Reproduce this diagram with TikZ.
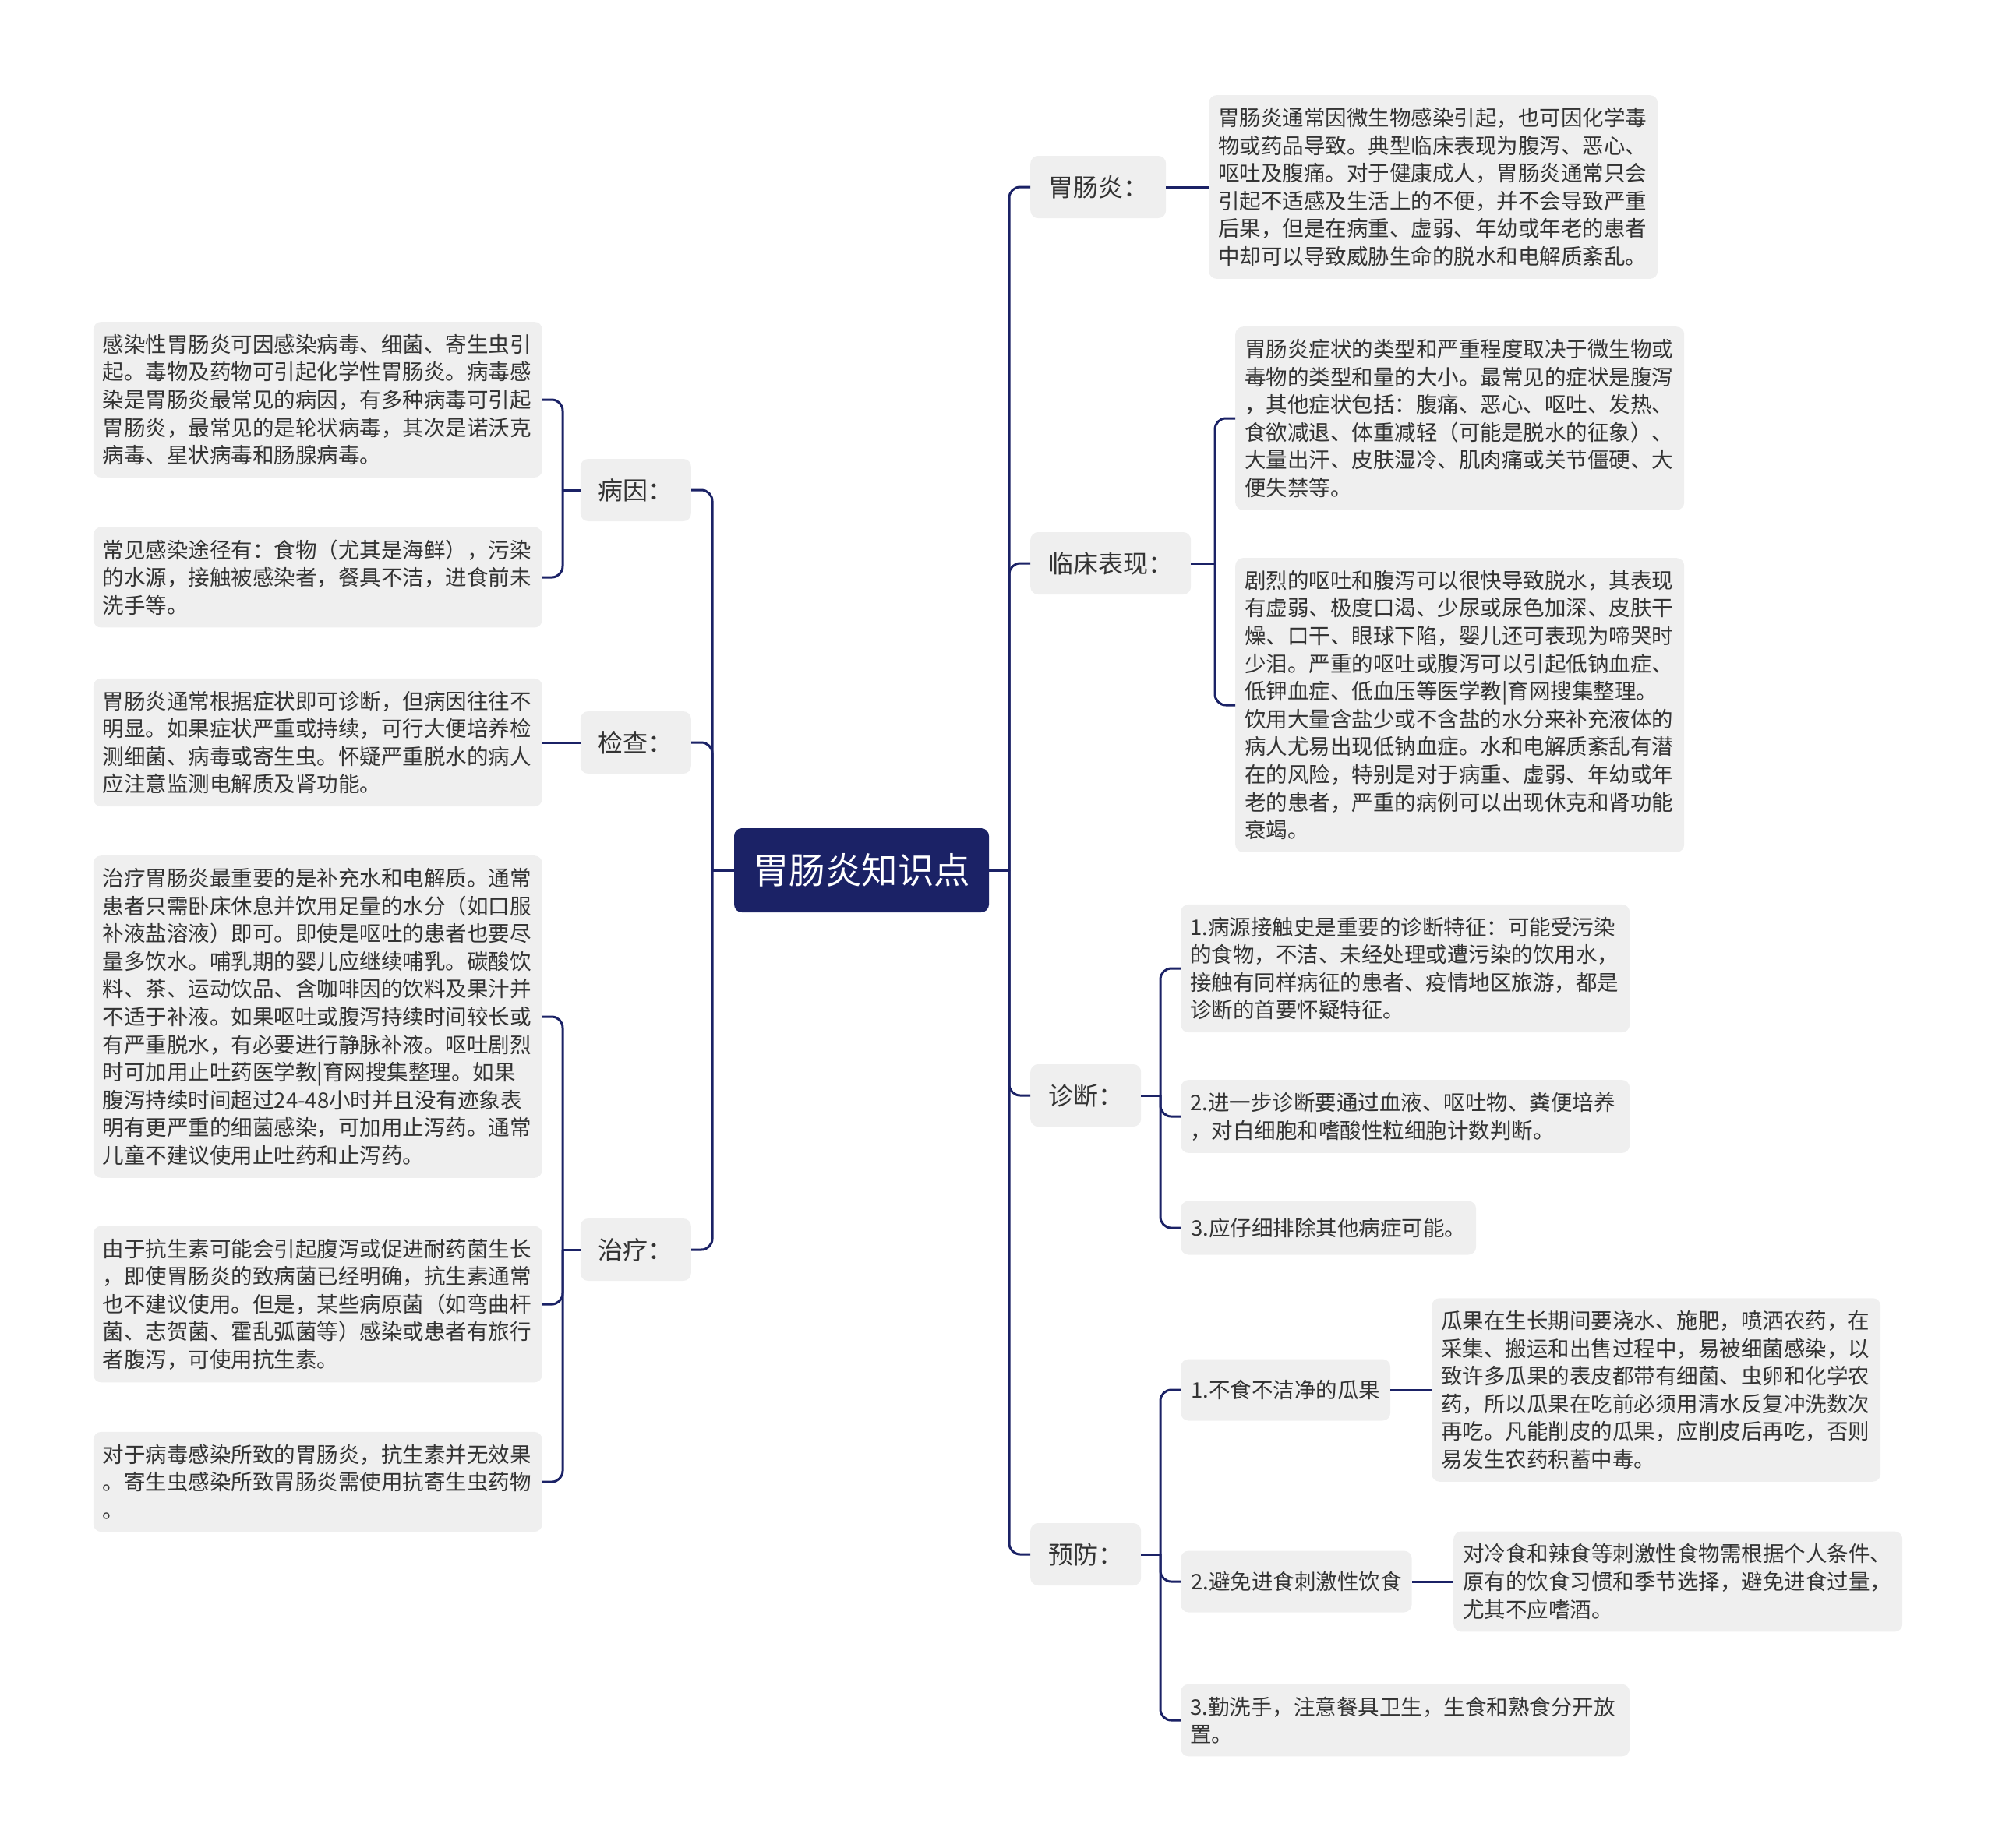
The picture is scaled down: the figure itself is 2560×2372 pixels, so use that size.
\documentclass[tikz,border=0pt]{standalone}
\usepackage{fontspec}
\setmainfont{Noto Sans CJK SC}
\definecolor{navy}{RGB}{27,34,102}
\definecolor{boxgray}{RGB}{239,239,239}
\definecolor{txt}{RGB}{51,51,51}
\tikzset{
  mainnode/.style={fill=navy, rounded corners=10pt, text=white, font=\fontsize{46.5}{56}\selectfont, minimum height=108pt, inner xsep=24pt, inner ysep=0pt},
  lab/.style={fill=boxgray, rounded corners=10pt, text=txt, font=\fontsize{32}{38}\selectfont, minimum height=80pt, inner xsep=23pt, inner ysep=0pt},
  tbox/.style={fill=boxgray, rounded corners=10pt, text=txt, font=\fontsize{27.5}{35.6}\selectfont, align=left, text width=552pt, inner xsep=12pt, inner ysep=16pt},
  sbox/.style={fill=boxgray, rounded corners=10pt, text=txt, font=\fontsize{27.5}{35.6}\selectfont, inner xsep=13pt, inner ysep=0pt, minimum height=79pt},
  conn/.style={draw=navy, line width=3pt, rounded corners=14pt},
}
\begin{document}
\begin{tikzpicture}[x=1pt,y=-1pt]
\useasboundingbox (0,0) rectangle (2560,2372);
% center
\node[mainnode] (c) at (1105.5,1117) {胃肠炎知识点};
% right labels
\node[lab, anchor=west] (r1) at (1322,240) {胃肠炎：};
\node[lab, anchor=west] (r2) at (1322,723) {临床表现：};
\node[lab, anchor=west] (r3) at (1322,1406) {诊断：};
\node[lab, anchor=west] (r4) at (1322,1995) {预防：};
% left labels
\node[lab, anchor=east] (l1) at (887,629) {病因：};
\node[lab, anchor=east] (l2) at (887,953) {检查：};
\node[lab, anchor=east] (l3) at (887,1604) {治疗：};
% right text boxes
\node[tbox, anchor=west] (R1) at (1551,240) {胃肠炎通常因微生物感染引起，也可因化学毒\\物或药品导致。典型临床表现为腹泻、恶心、\\呕吐及腹痛。对于健康成人，胃肠炎通常只会\\引起不适感及生活上的不便，并不会导致严重\\后果，但是在病重、虚弱、年幼或年老的患者\\中却可以导致威胁生命的脱水和电解质紊乱。};
\node[tbox, anchor=west] (R2a) at (1585,537) {胃肠炎症状的类型和严重程度取决于微生物或\\毒物的类型和量的大小。最常见的症状是腹泻\\，其他症状包括：腹痛、恶心、呕吐、发热、\\食欲减退、体重减轻（可能是脱水的征象）、\\大量出汗、皮肤湿冷、肌肉痛或关节僵硬、大\\便失禁等。};
\node[tbox, anchor=west] (R2b) at (1585,905) {剧烈的呕吐和腹泻可以很快导致脱水，其表现\\有虚弱、极度口渴、少尿或尿色加深、皮肤干\\燥、口干、眼球下陷，婴儿还可表现为啼哭时\\少泪。严重的呕吐或腹泻可以引起低钠血症、\\低钾血症、低血压等医学教|育网搜集整理。\\饮用大量含盐少或不含盐的水分来补充液体的\\病人尤易出现低钠血症。水和电解质紊乱有潜\\在的风险，特别是对于病重、虚弱、年幼或年\\老的患者，严重的病例可以出现休克和肾功能\\衰竭。};
\node[tbox, anchor=west] (D1) at (1515,1243) {1.病源接触史是重要的诊断特征：可能受污染\\的食物，不洁、未经处理或遭污染的饮用水，\\接触有同样病征的患者、疫情地区旅游，都是\\诊断的首要怀疑特征。};
\node[tbox, anchor=west] (D2) at (1515,1433) {2.进一步诊断要通过血液、呕吐物、粪便培养\\，对白细胞和嗜酸性粒细胞计数判断。};
\node[sbox, anchor=west, minimum height=69pt] (D3) at (1515,1576) {3.应仔细排除其他病症可能。};
\node[sbox, anchor=west] (P1) at (1515,1784) {1.不食不洁净的瓜果};
\node[tbox, anchor=west] (P1c) at (1837,1784) {瓜果在生长期间要浇水、施肥，喷洒农药，在\\采集、搬运和出售过程中，易被细菌感染，以\\致许多瓜果的表皮都带有细菌、虫卵和化学农\\药，所以瓜果在吃前必须用清水反复冲洗数次\\再吃。凡能削皮的瓜果，应削皮后再吃，否则\\易发生农药积蓄中毒。};
\node[sbox, anchor=west] (P2) at (1515,2030) {2.避免进食刺激性饮食};
\node[tbox, anchor=west] (P2c) at (1865,2030) {对冷食和辣食等刺激性食物需根据个人条件、\\原有的饮食习惯和季节选择，避免进食过量，\\尤其不应嗜酒。};
\node[tbox, anchor=west] (P3) at (1515,2208) {3.勤洗手，注意餐具卫生，生食和熟食分开放\\置。};
% left text boxes
\node[tbox, anchor=east] (L1a) at (696,513) {感染性胃肠炎可因感染病毒、细菌、寄生虫引\\起。毒物及药物可引起化学性胃肠炎。病毒感\\染是胃肠炎最常见的病因，有多种病毒可引起\\胃肠炎，最常见的是轮状病毒，其次是诺沃克\\病毒、星状病毒和肠腺病毒。};
\node[tbox, anchor=east] (L1b) at (696,741) {常见感染途径有：食物（尤其是海鲜），污染\\的水源，接触被感染者，餐具不洁，进食前未\\洗手等。};
\node[tbox, anchor=east] (L2) at (696,953) {胃肠炎通常根据症状即可诊断，但病因往往不\\明显。如果症状严重或持续，可行大便培养检\\测细菌、病毒或寄生虫。怀疑严重脱水的病人\\应注意监测电解质及肾功能。};
\node[tbox, anchor=east] (L3a) at (696,1305) {治疗胃肠炎最重要的是补充水和电解质。通常\\患者只需卧床休息并饮用足量的水分（如口服\\补液盐溶液）即可。即使是呕吐的患者也要尽\\量多饮水。哺乳期的婴儿应继续哺乳。碳酸饮\\料、茶、运动饮品、含咖啡因的饮料及果汁并\\不适于补液。如果呕吐或腹泻持续时间较长或\\有严重脱水，有必要进行静脉补液。呕吐剧烈\\时可加用止吐药医学教|育网搜集整理。如果\\腹泻持续时间超过24-48小时并且没有迹象表\\明有更严重的细菌感染，可加用止泻药。通常\\儿童不建议使用止吐药和止泻药。};
\node[tbox, anchor=east] (L3b) at (696,1674) {由于抗生素可能会引起腹泻或促进耐药菌生长\\，即使胃肠炎的致病菌已经明确，抗生素通常\\也不建议使用。但是，某些病原菌（如弯曲杆\\菌、志贺菌、霍乱弧菌等）感染或患者有旅行\\者腹泻，可使用抗生素。};
\node[tbox, anchor=east] (L3c) at (696,1902) {对于病毒感染所致的胃肠炎，抗生素并无效果\\。寄生虫感染所致胃肠炎需使用抗寄生虫药物\\。};
% junctions
\coordinate (jR) at (1295,1117);
\coordinate (jL) at (914,1117);
\coordinate (j2) at (1559,723);
\coordinate (j3) at (1489,1406);
\coordinate (j4) at (1489,1995);
\coordinate (jl1) at (722,629);
\coordinate (jl3) at (722,1604);
% connectors center
\draw[conn] (c.east) -- (jR);
\foreach \n in {r1,r2,r3,r4} \draw[conn] (jR) |- (\n.west);
\draw[conn] (c.west) -- (jL);
\foreach \n in {l1,l2,l3} \draw[conn] (jL) |- (\n.east);
% right sub
\draw[conn] (r1.east) -- (R1.west);
\draw[conn] (r2.east) -- (j2);
\foreach \n in {R2a,R2b} \draw[conn] (j2) |- (\n.west);
\draw[conn] (r3.east) -- (j3);
\foreach \n in {D1,D2,D3} \draw[conn] (j3) |- (\n.west);
\draw[conn] (r4.east) -- (j4);
\foreach \n in {P1,P2,P3} \draw[conn] (j4) |- (\n.west);
\draw[conn] (P1.east) -- (P1c.west);
\draw[conn] (P2.east) -- (P2c.west);
% left sub
\draw[conn] (l1.west) -- (jl1);
\foreach \n in {L1a,L1b} \draw[conn] (jl1) |- (\n.east);
\draw[conn] (l2.west) -- (L2.east);
\draw[conn] (l3.west) -- (jl3);
\foreach \n in {L3a,L3b,L3c} \draw[conn] (jl3) |- (\n.east);
\end{tikzpicture}
\end{document}
